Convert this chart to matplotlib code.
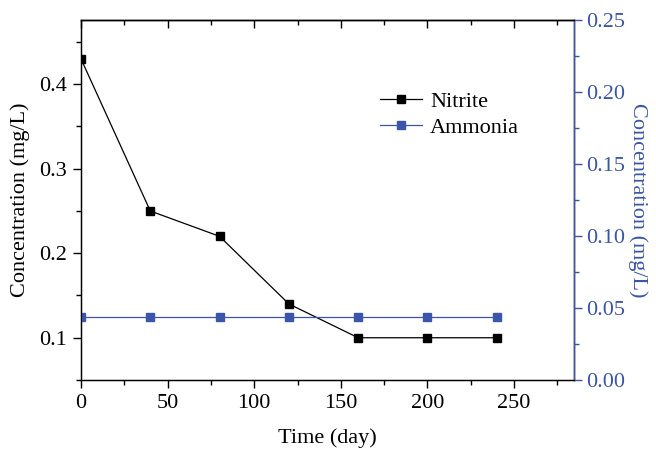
import matplotlib
matplotlib.use('Agg')
import matplotlib.pyplot as plt
from matplotlib.ticker import MultipleLocator

# Data
days = [0, 40, 80, 120, 160, 200, 240]
nitrite = [0.43, 0.25, 0.22, 0.14, 0.10, 0.10, 0.10]
ammonia = [0.044, 0.044, 0.044, 0.044, 0.044, 0.044, 0.044]

blue = '#3a56a8'
plt.rcParams['font.family'] = ['Liberation Serif', 'DejaVu Serif']
plt.rcParams['font.size'] = 16

fig = plt.figure(figsize=(6.56, 4.49), dpi=100)
ax = fig.add_axes([81/656, 1 - 380/449, 493/656, 360/449])
ax2 = ax.twinx()

l1, = ax.plot(days, nitrite, 'k-', marker='s', markersize=5.5, linewidth=0.9, label='Nitrite')
l2, = ax2.plot(days, ammonia, '-', color=blue, marker='s', markersize=5.5,
               linewidth=0.9, label='Ammonia')

ax.set_xlim(0, 284.6)
ax.set_ylim(0.05, 0.476)
ax2.set_ylim(0, 0.25)

ax.xaxis.set_major_locator(MultipleLocator(50))
ax.xaxis.set_minor_locator(MultipleLocator(25))
ax.yaxis.set_major_locator(MultipleLocator(0.1))
ax.yaxis.set_minor_locator(MultipleLocator(0.05))
ax2.yaxis.set_major_locator(MultipleLocator(0.05))
ax2.yaxis.set_minor_locator(MultipleLocator(0.025))

ax.tick_params(axis='x', which='both', direction='out', top=False)
ax.tick_params(which='major', length=6, width=1, pad=4)
ax.tick_params(which='minor', length=3.5, width=1)
ax.yaxis.set_major_formatter(plt.FormatStrFormatter('%.1f'))
ax2.yaxis.set_major_formatter(plt.FormatStrFormatter('%.2f'))

# top axis ticks pointing inward
top = ax.secondary_xaxis('top')
top.xaxis.set_major_locator(MultipleLocator(50))
top.xaxis.set_minor_locator(MultipleLocator(25))
top.tick_params(which='both', direction='in', labeltop=False)
top.tick_params(which='major', length=6, width=1)
top.tick_params(which='minor', length=3.5, width=1)
top.spines['top'].set_linewidth(1)

for s in ax.spines.values():
    s.set_linewidth(1)
ax2.spines['right'].set_color(blue)
ax2.spines['right'].set_linewidth(1)
ax2.tick_params(axis='y', which='both', colors=blue, direction='out')
ax2.tick_params(which='major', length=6, width=1, pad=3)
ax2.tick_params(which='minor', length=3.5, width=1)

ax.set_xlabel('Time (day)', labelpad=11)
ax.set_ylabel('Concentration (mg/L)', labelpad=7)
ax2.set_ylabel('Concentration (mg/L)', color=blue, rotation=270, labelpad=16)

ax.legend(handles=[l1, l2], loc='upper left', bbox_to_anchor=(0.589, 0.826),
          frameon=False, handlelength=1.9, handletextpad=0.35, borderaxespad=0,
          labelspacing=0.22, fontsize=16)

fig.savefig('out.png', dpi=100)
